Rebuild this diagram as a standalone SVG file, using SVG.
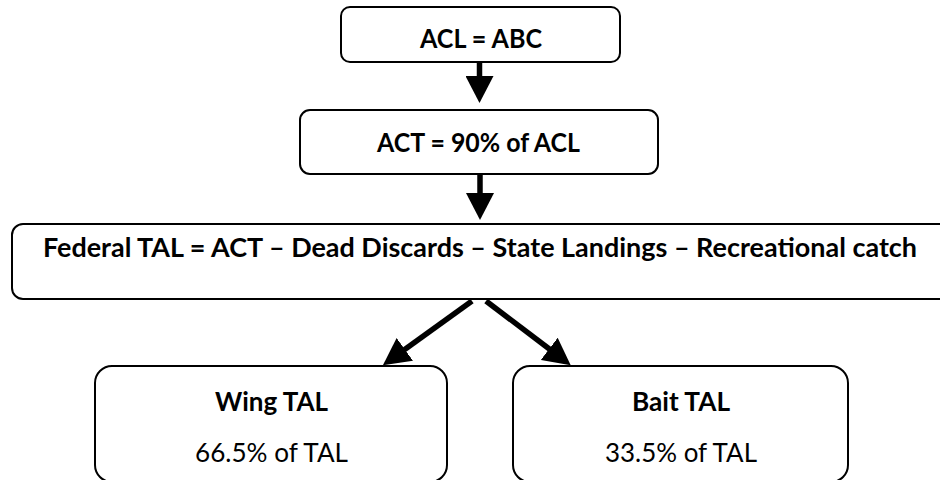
<svg xmlns="http://www.w3.org/2000/svg" width="940" height="480" viewBox="0 0 940 480">
  <style>
    .box { fill: #ffffff; stroke: #000000; stroke-width: 2; }
    .b { font-family: Lato, "Open Sans", "Liberation Sans", sans-serif; font-weight: bold; font-size: 26.5px; fill: #000; text-anchor: middle; }
    .r { font-family: Lato, "Open Sans", "Liberation Sans", sans-serif; font-weight: normal; font-size: 26.5px; fill: #000; text-anchor: middle; }
    .conn { stroke: #000; stroke-width: 5.5; fill: none; marker-end: url(#head); }
  </style>
  <defs>
    <marker id="head" markerUnits="userSpaceOnUse" viewBox="0 0 27 28" markerWidth="27" markerHeight="28" refX="1" refY="14" orient="auto">
      <path d="M0,0 L27,14 L0,28 Z" fill="#000"/>
    </marker>
  </defs>
  <rect width="940" height="480" fill="#ffffff"/>

  <g id="connectors">
    <line class="conn" x1="479.5" y1="62" x2="479.5" y2="77"/>
    <line class="conn" x1="480" y1="175" x2="480" y2="194"/>
    <line class="conn" x1="472" y1="301" x2="404" y2="350"/>
    <line class="conn" x1="486" y1="301" x2="550" y2="349.5"/>
  </g>

  <g id="acl">
    <rect class="box" x="341" y="7" width="279" height="55" rx="9"/>
    <text class="b" x="481" y="48" textLength="122" lengthAdjust="spacingAndGlyphs">ACL = ABC</text>
  </g>

  <g id="act">
    <rect class="box" x="300" y="110" width="358" height="64" rx="10"/>
    <text class="b" x="478.5" y="152" textLength="203" lengthAdjust="spacingAndGlyphs">ACT = 90% of ACL</text>
  </g>

  <g id="federal-tal">
    <rect class="box" x="12" y="224" width="950" height="75" rx="11"/>
    <text class="b" x="480" y="257" textLength="874" lengthAdjust="spacingAndGlyphs">Federal TAL = ACT – Dead Discards – State Landings – Recreational catch</text>
  </g>

  <g id="wing-tal">
    <rect class="box" x="95" y="366" width="352" height="116" rx="17"/>
    <text class="b" x="271.5" y="411" textLength="113" lengthAdjust="spacingAndGlyphs">Wing TAL</text>
    <text class="r" x="271.5" y="462" textLength="153" lengthAdjust="spacingAndGlyphs">66.5% of TAL</text>
  </g>

  <g id="bait-tal">
    <rect class="box" x="513" y="366" width="335" height="116" rx="17"/>
    <text class="b" x="681" y="411" textLength="98" lengthAdjust="spacingAndGlyphs">Bait TAL</text>
    <text class="r" x="681" y="462" textLength="152" lengthAdjust="spacingAndGlyphs">33.5% of TAL</text>
  </g>
</svg>
